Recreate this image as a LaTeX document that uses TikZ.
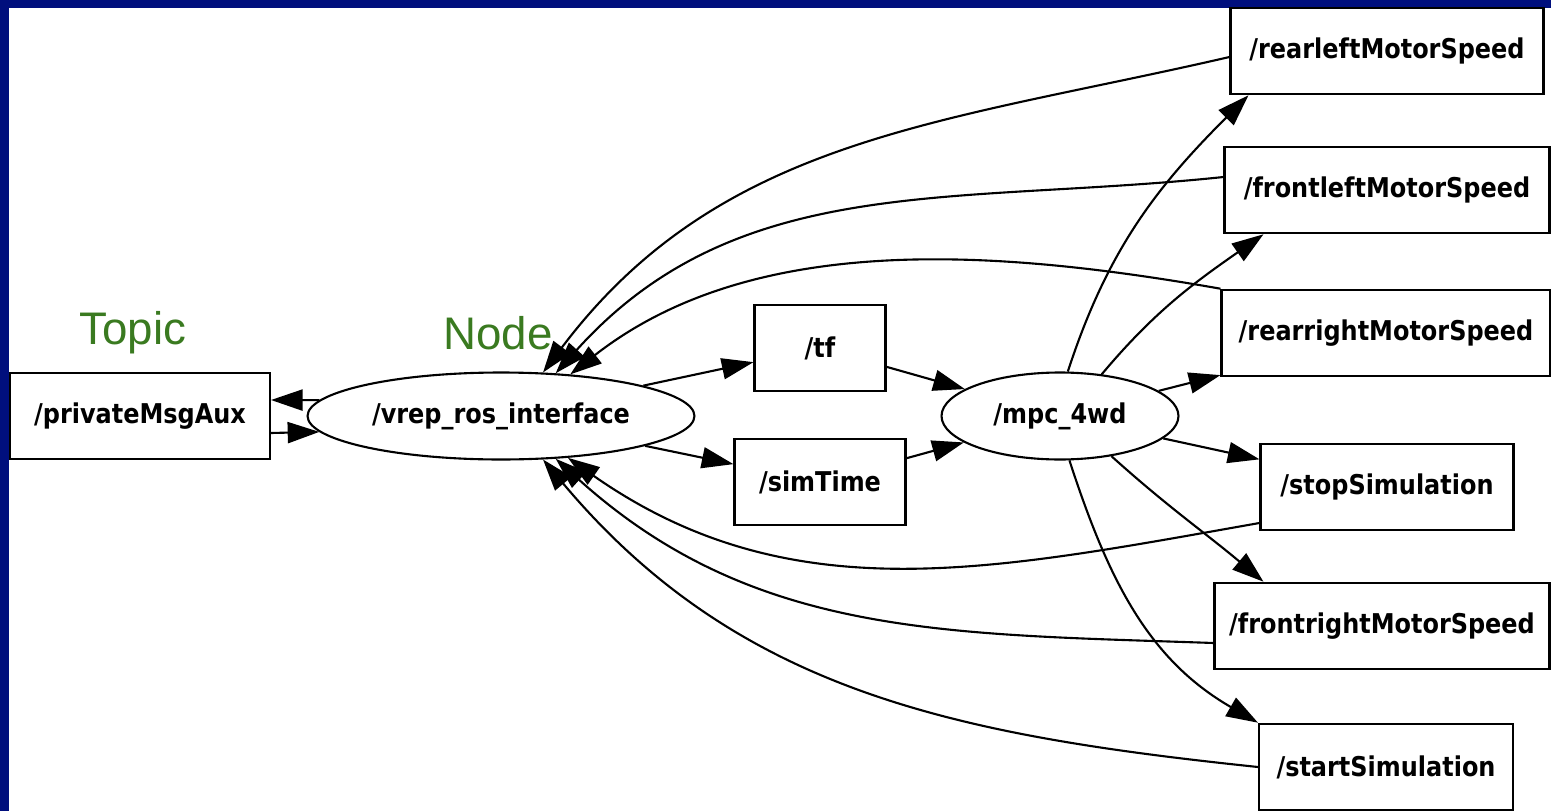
\documentclass[tikz,border=0pt]{standalone}
\usepackage{fontspec}
\setmainfont{Liberation Sans}
\newfontfamily\rosfont{DejaVu Sans}[FakeStretch=0.88]
\usetikzlibrary{shapes.geometric,arrows.meta}
\definecolor{navyframe}{RGB}{0,15,125}
\definecolor{labelgreen}{RGB}{58,122,32}
\begin{document}
\begin{tikzpicture}[x=0.02cm, y=-0.02cm]
            \tikzstyle{topic}=[draw,rectangle,line width=1.2pt,minimum height=1.73cm,inner sep=2pt,font=\rosfont\bfseries\fontsize{15.5pt}{18pt}\selectfont]
            \tikzstyle{rosnode}=[draw,ellipse,line width=1.2pt,minimum height=1.74cm,inner sep=0pt,font=\rosfont\bfseries\fontsize{15.5pt}{18pt}\selectfont]
            \tikzstyle{edge}=[line width=1.2pt,-{Triangle[length=18pt,width=12pt]}]
            \tikzstyle{legend}=[text=labelgreen,font=\fontsize{26pt}{30pt}\selectfont,inner sep=0pt]

            \useasboundingbox (0,0) rectangle (1551,811);
            \fill[navyframe] (0,0) rectangle (1551,8);
            \fill[navyframe] (0,0) rectangle (9,811);

            \node[legend] (topicLabel) at (133,333) {Topic};
            \node[legend] (nodeLabel) at (498,333) {Node};

            \node[topic, minimum width=5.2cm] (privMsg) at (140,416) {/privateMsgAux};
            \node[rosnode, minimum width=7.74cm] (vrep) at (501,416) {/vrep\_ros\_interface};
            \node[topic, minimum width=2.62cm] (tf) at (820,348) {/tf};
            \node[topic, minimum width=3.42cm] (simTime) at (820,482) {/simTime};
            \node[rosnode, minimum width=4.74cm] (mpc) at (1060,416) {/mpc\_4wd};
            \node[topic, minimum width=6.26cm] (rearLeft) at (1387,51) {/rearleftMotorSpeed};
            \node[topic, minimum width=6.5cm] (frontLeft) at (1387,190) {/frontleftMotorSpeed};
            \node[topic, minimum width=6.58cm] (rearRight) at (1386,333) {/rearrightMotorSpeed};
            \node[topic, minimum width=5.06cm] (stopSim) at (1387,487) {/stopSimulation};
            \node[topic, minimum width=6.7cm] (frontRight) at (1382,626) {/frontrightMotorSpeed};
            \node[topic, minimum width=5.08cm] (startSim) at (1386,767) {/startSimulation};

            % private topic, both ways
            \draw[edge] (vrep.175) -- ([yshift=0.32cm]privMsg.east);
            \draw[edge] ([yshift=-0.34cm]privMsg.east) -- (vrep.185);

            % middle row
            \draw[edge] (vrep) -- (tf);
            \draw[edge] (vrep) -- (simTime);
            \draw[edge] (tf) -- (mpc);
            \draw[edge] (simTime) -- (mpc);

            % mpc publishes
            \draw[edge] (mpc.80) to[out=72,in=225] ([xshift=0.38cm]rearLeft.south west);
            \draw[edge] (mpc.45) to[out=50,in=215] ([xshift=0.8cm]frontLeft.south west);
            \draw[edge] (mpc) -- (rearRight);
            \draw[edge] (mpc) -- (stopSim);
            \draw[edge] (mpc.-38) to[out=-42,in=140] ([xshift=1cm]frontRight.north west);
            \draw[edge] (mpc.-78) to[out=-72,in=150] (startSim.north west);

            % back to the interface
            \draw[edge] ([yshift=-0.12cm]rearLeft.west) to[out=193,in=53] (vrep.46);
            \draw[edge] ([yshift=0.26cm]frontLeft.west) to[out=186,in=48] (vrep.38);
            \draw[edge] (rearRight.north west) to[out=170,in=38,looseness=0.9] (vrep.31);
            \draw[edge] ([yshift=-0.72cm]stopSim.west) to[out=190,in=-35] (vrep.-32);
            \draw[edge] ([yshift=-0.34cm]frontRight.west) to[out=178,in=-42] (vrep.-38);
            \draw[edge] (startSim.west) to[out=174,in=-50] (vrep.-46);
        \end{tikzpicture}
\end{document}
